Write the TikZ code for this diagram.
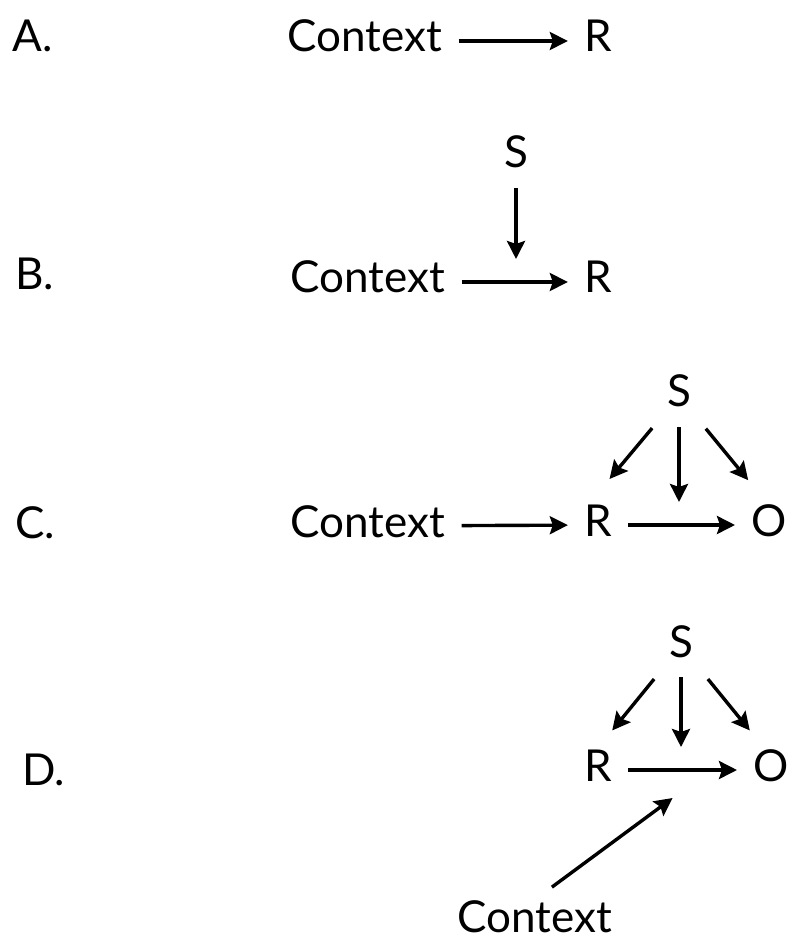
\documentclass[tikz,border=0pt]{standalone}
\usepackage{fontspec}
\setmainfont{Lato}
\usetikzlibrary{positioning,arrows.meta}

\begin{document}
\begin{tikzpicture}[
  x=0.5pt, y=-0.5pt,
  lbl/.style={font=\fontsize{22}{26}\selectfont,inner xsep=8pt,inner ysep=2pt,text height=14pt,text depth=3pt,anchor=base},
  tag/.style={lbl,inner sep=0pt,anchor=base west},
  arr/.style={line width=1.7pt,-{Stealth[length=9pt,width=9pt,inset=1.5pt]}},
  mod/.style={arr,shorten <=5pt,shorten >=11.5pt}
]
\useasboundingbox (0,0) rectangle (800,945);

% Panel A
\node[tag] (labA) at (12,52) {A.};
\node[lbl] (ctxA) at (365,52) {Context};
\node[lbl] (rA) at (598,52) {R};
\draw[arr] (ctxA) -- (rA);

% Panel B
\node[tag] (labB) at (15,290) {B.};
\node[lbl] (sB) at (516,168) {S};
\node[lbl] (ctxB) at (368,293) {Context};
\node[lbl] (rB) at (598,293) {R};
\draw[arr] (ctxB) -- coordinate[pos=.5] (midB) (rB);
\draw[mod] (sB) -- (sB |- midB);

% Panel C
\node[tag] (labC) at (15,538) {C.};
\node[lbl] (sC) at (679,407) {S};
\node[lbl] (ctxC) at (368,537) {Context};
\node[lbl] (rC) at (598,536) {R};
\node[lbl] (oC) at (769,536) {O};
\draw[arr] (ctxC) -- (rC);
\draw[arr] (rC) -- coordinate[pos=.5] (midC) (oC);
\draw[mod] (sC) -- (sC |- midC);
\draw[arr,shorten <=7pt,shorten >=30pt] (sC) -- ([xshift=-13.5pt]rC.center);
\draw[arr,shorten <=7.3pt,shorten >=29pt] (sC) -- ([xshift=8pt]oC.center);

% Panel D
\node[tag] (labD) at (22,785) {D.};
\node[lbl] (sD) at (681,657) {S};
\node[lbl] (rD) at (598,781) {R};
\node[lbl] (oD) at (771,781) {O};
\node[lbl] (ctxD) at (535,932) {Context};
\draw[arr] (rD) -- coordinate[pos=.5] (midD) (oD);
\draw[mod] (sD) -- (sD |- midD);
\draw[arr,shorten <=7.5pt,shorten >=25.5pt] (sD) -- ([xshift=-9pt]rD.center);
\draw[arr,shorten <=7.5pt,shorten >=25.5pt] (sD) -- ([xshift=5.5pt]oD.center);
\draw[arr,shorten <=10.5pt] (ctxD.north) -- ([shift={(-5pt,-14pt)}]midD);
\end{tikzpicture}
\end{document}
